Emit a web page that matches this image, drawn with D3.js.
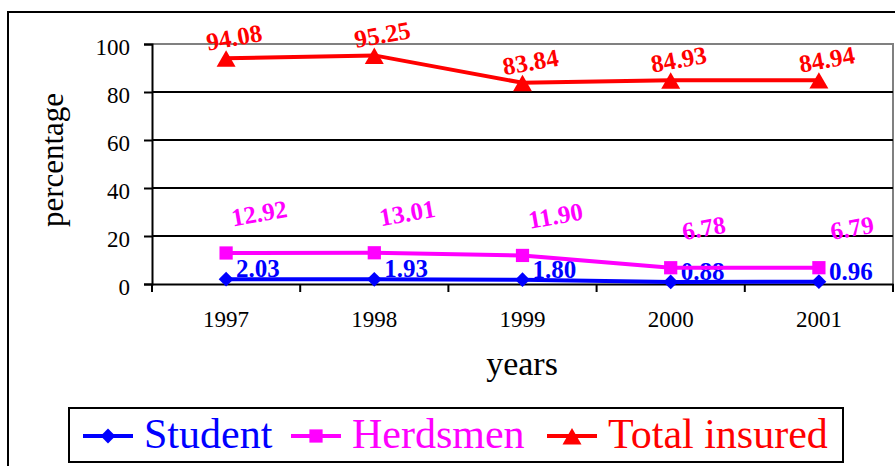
<!DOCTYPE html>
<html>
<head>
<meta charset="utf-8">
<script src="https://cdn.jsdelivr.net/npm/d3@7"></script>
<style>
  body { margin: 0; background: #fff; }
  svg { display: block; font-family: "Liberation Serif", "Times New Roman", serif; }
</style>
</head>
<body>
<div id="chart"></div>
<script>

var years = ["1997", "1998", "1999", "2000", "2001"];
var student = [2.03, 1.93, 1.80, 0.88, 0.96];
var herdsmen = [12.92, 13.01, 11.90, 6.78, 6.79];
var totalInsured = [94.08, 95.25, 83.84, 84.93, 84.94];
var yTicks = [0, 20, 40, 60, 80, 100];

var svg_width = 895;
var svg_height = 466;
var plot_left = 152, plot_right = 893;
var plot_top = 44, plot_bottom = 284;
var serif = "'Liberation Serif', 'Times New Roman', serif";

var diamond = {draw: function(ctx, size) {
  var r = Math.sqrt(size / 2);
  ctx.moveTo(0, -r); ctx.lineTo(r, 0); ctx.lineTo(0, r); ctx.lineTo(-r, 0); ctx.closePath();
}};

var series = [
  {name: "Student", values: student, color: "#0000ff", symbol: diamond, size: 110, shift: 0,
   dx: 10, dy: -2, rotate: 0, anchor: "start", baseline: "0"},
  {name: "Herdsmen", values: herdsmen, color: "#ff00ff", symbol: d3.symbolSquare, size: 175, shift: 0,
   dx: 33, dy: -40, rotate: -10, anchor: "middle", baseline: "0.35em"},
  {name: "Total insured", values: totalInsured, color: "#ff0000", symbol: d3.symbolTriangle, size: 156, shift: 3,
   dx: 8, dy: -21, rotate: -10, anchor: "middle", baseline: "0.35em"}
];

var xScale = d3.scaleBand()
               .domain(years)
               .range([plot_left, plot_right]);

var yScale = d3.scaleLinear()
               .domain([0, 100])
               .range([plot_bottom, plot_top]);

var svg = d3.select("#chart")
            .append("svg")
            .attr("width", svg_width)
            .attr("height", svg_height);

// outer chart border
svg.append("rect")
   .attr("x", 8).attr("y", 12)
   .attr("width", 900).attr("height", 470)
   .attr("fill", "none").attr("stroke", "#000").attr("stroke-width", 2);

// plot area frame (grey top and right)
svg.append("path")
   .attr("d", "M" + plot_left + "," + plot_top + "H" + plot_right + "V" + plot_bottom)
   .attr("fill", "none").attr("stroke", "#808080").attr("stroke-width", 2);

// gridlines
svg.append("g")
   .selectAll("line")
   .data(yTicks.filter(function(d) {return d > 0 && d < 100;}))
   .enter()
     .append("line")
     .attr("x1", plot_left).attr("x2", plot_right)
     .attr("y1", function(d) {return yScale(d);})
     .attr("y2", function(d) {return yScale(d);})
     .attr("stroke", "#000").attr("stroke-width", 2);

// y axis
var yAxis = d3.axisLeft(yScale).tickValues(yTicks).tickSize(8).tickPadding(14);
var gy = svg.append("g")
   .attr("transform", "translate(" + plot_left + ",0)")
   .call(yAxis);
gy.select(".domain").attr("stroke-width", 2);
gy.selectAll(".tick line").attr("stroke-width", 2);
gy.selectAll(".tick text")
  .attr("dy", "0.45em")
  .style("font-family", serif)
  .style("font-size", "23px")
  .attr("fill", "#000");

// x axis
var xAxis = d3.axisBottom(xScale).tickSize(0).tickPadding(27);
var gx = svg.append("g")
   .attr("transform", "translate(0," + plot_bottom + ")")
   .call(xAxis);
gx.select(".domain").attr("stroke-width", 2);
gx.selectAll(".tick text")
  .style("font-family", serif)
  .style("font-size", "23px")
  .attr("fill", "#000");

// x tick marks between categories
var bounds = years.map(function(d) {return xScale(d);}).concat([plot_right]);
svg.append("g")
   .selectAll("line")
   .data(bounds)
   .enter()
     .append("line")
     .attr("x1", function(d) {return d;}).attr("x2", function(d) {return d;})
     .attr("y1", plot_bottom).attr("y2", plot_bottom + 8)
     .attr("stroke", "#000").attr("stroke-width", 2);

// axis titles
svg.append("text")
   .attr("x", 522)
   .attr("y", 375)
   .attr("text-anchor", "middle")
   .attr("font-size", 34)
   .text("years");

svg.append("text")
   .attr("transform", "translate(63,160) rotate(-90)")
   .attr("text-anchor", "middle")
   .attr("font-size", 31)
   .text("percentage");

var cx = function(d, i) {return xScale(years[i]) + xScale.bandwidth() / 2;};

var line = d3.line()
             .x(function(d, i) {return cx(d, i);})
             .y(function(d) {return yScale(d);});

series.forEach(function(s) {
  var g = svg.append("g");
  g.append("path")
   .attr("d", line(s.values))
   .attr("fill", "none")
   .attr("stroke", s.color)
   .attr("stroke-width", 4);

  g.selectAll(".marker")
   .data(s.values)
   .enter()
     .append("path")
     .attr("class", "marker")
     .attr("d", d3.symbol().type(s.symbol).size(s.size))
     .attr("transform", function(d, i) {
       return "translate(" + cx(d, i) + "," + (yScale(d) + s.shift) + ")";
     })
     .attr("fill", s.color);

  g.selectAll(".lbl")
   .data(s.values)
   .enter()
     .append("text")
     .attr("class", "lbl")
     .attr("transform", function(d, i) {
       return "translate(" + (cx(d, i) + s.dx) + "," + (yScale(d) + s.dy) + ") rotate(" + s.rotate + ")";
     })
     .attr("text-anchor", s.anchor)
     .attr("dy", s.baseline)
     .attr("font-size", 25)
     .attr("font-weight", "bold")
     .attr("fill", s.color)
     .text(function(d) {return d.toFixed(2);});
});

// legend
var legend = svg.append("g");
legend.append("rect")
      .attr("x", 69).attr("y", 408)
      .attr("width", 774).attr("height", 54)
      .attr("fill", "#fff").attr("stroke", "#000").attr("stroke-width", 2);

var legendX = [83, 291, 547];
series.forEach(function(s, i) {
  var lg = legend.append("g").attr("transform", "translate(" + legendX[i] + ",436)");
  lg.append("line")
    .attr("x1", 0).attr("x2", 50)
    .attr("stroke", s.color).attr("stroke-width", 4);
  lg.append("path")
    .attr("d", d3.symbol().type(s.symbol).size(s.size))
    .attr("transform", "translate(25," + s.shift + ")")
    .attr("fill", s.color);
  lg.append("text")
    .attr("x", 61).attr("y", 12)
    .attr("font-size", 42)
    .attr("fill", s.color)
    .text(s.name);
});

</script>
</body>
</html>
